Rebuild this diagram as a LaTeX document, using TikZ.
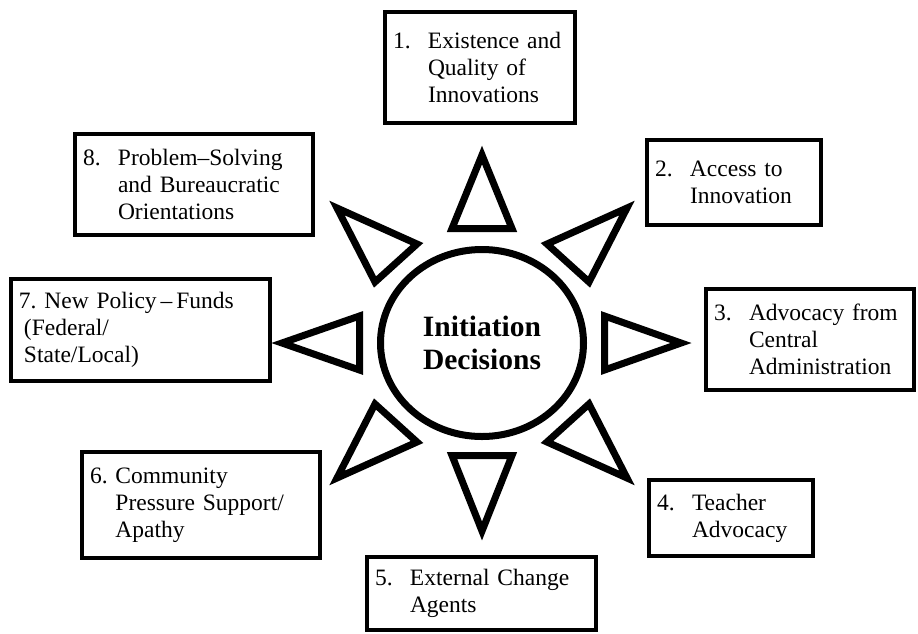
\documentclass[tikz,border=0pt]{standalone}
\usepackage{fontspec}
\setmainfont{Liberation Serif}
\usetikzlibrary{shapes.geometric}

\tikzset{
    factor/.style={rectangle, draw, line width=4pt, inner xsep=8pt, inner ysep=4pt,
        align=left, font=\fontsize{23.5}{27}\selectfont},
    spike/.style={draw, line width=7pt, line join=miter},
}
\newcommand{\numgap}{\hspace*{35pt}}

\begin{document}
\begin{tikzpicture}[x=1pt, y=-1pt]
    \useasboundingbox (0,0) rectangle (918,633);

    % Centre
    \node (hub) [ellipse, draw, line width=7pt, minimum width=203pt, minimum height=187pt,
        align=center, font=\bfseries\fontsize{29.5}{33}\selectfont] at (482,343) {Initiation\\Decisions};

    % Rays
    \draw[spike] (452,228.5) -- (482,155) -- (512,228.5) -- cycle;
    \draw[spike] (547,244) -- (627,208) -- (589,282) -- cycle;
    \draw[spike] (604.5,316) -- (681,343) -- (604.5,370) -- cycle;
    \draw[spike] (547,442) -- (627,478) -- (589,404) -- cycle;
    \draw[spike] (452,455.5) -- (482,531) -- (512,455.5) -- cycle;
    \draw[spike] (417,442) -- (337,478) -- (375,404) -- cycle;
    \draw[spike] (359.5,316) -- (282,343) -- (359.5,370) -- cycle;
    \draw[spike] (417,244) -- (337,208) -- (375,282) -- cycle;

    % Factors
    \node (existence) [factor, text width=174pt, minimum height=111pt] at (480,67.5)
        {\makebox[35pt][l]{1.}Existence and\\\numgap Quality of\\\numgap Innovations};
    \node (access) [factor, text width=158pt, minimum height=85pt] at (734,182.5)
        {\makebox[35pt][l]{2.}Access to\\\numgap Innovation};
    \node (central) [factor, text width=192pt, minimum height=101pt] at (810,339.5)
        {\makebox[35pt][l]{3.}Advocacy from\\\numgap Central\\\numgap Administration};
    \node (teacher) [factor, text width=148pt, minimum height=76pt] at (731,518)
        {\makebox[35pt][l]{4.}Teacher\\\numgap Advocacy};
    \node (agents) [factor, text width=213pt, minimum height=73pt] at (481.5,593.5)
        {\makebox[35pt][l]{5.}External Change\\\numgap Agents};
    \node (community) [factor, text width=222pt, minimum height=106pt] at (201,505)
        {6.~Community\\\hphantom{6.~}Pressure Support/\\\hphantom{6.~}Apathy};
    \node (policy) [factor, text width=243pt, minimum height=102pt] at (140.5,330)
        {7.~New Policy\,--\,Funds\\\hspace*{5pt}(Federal/\\\hspace*{5pt}State/Local)};
    \node (bureau) [factor, text width=222pt, minimum height=101pt] at (194,184.5)
        {\makebox[35pt][l]{8.}Problem--Solving\\\numgap and Bureaucratic\\\numgap Orientations};

\end{tikzpicture}
\end{document}
